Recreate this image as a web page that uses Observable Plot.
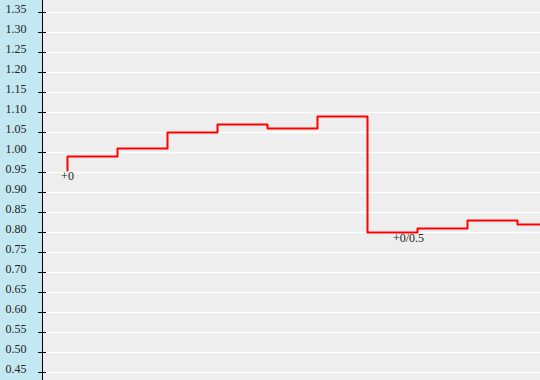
<!DOCTYPE html>
<html>
<head>
<meta charset="utf-8">
<script src="https://cdn.jsdelivr.net/npm/d3@7"></script>
<script src="https://cdn.jsdelivr.net/npm/@observablehq/plot@0.6"></script>
<style>
  html, body { margin: 0; padding: 0; background: #eeeeee; }
  svg text { font-family: 'Liberation Serif', 'Times New Roman', serif; }
</style>
</head>
<body>
<div id="chart"></div>
<script>
// Step series: point index and value (step-before)
const steps = [0, 1, 2, 3, 4, 5, 6, 7, 8, 9, 10];
const values = [0.955, 0.99, 1.01, 1.05, 1.07, 1.06, 1.09, 0.80, 0.81, 0.83, 0.82];
// Y ticks
const yTicks = [0.45, 0.50, 0.55, 0.60, 0.65, 0.70, 0.75, 0.80, 0.85, 0.90, 0.95, 1.00, 1.05, 1.10, 1.15, 1.20, 1.25, 1.30, 1.35];
// Annotations
const labelText = ["+0", "+0/0.5"];
const labelStep = [0, 7];

const series = steps.map((s, i) => ({s, v: values[i]}));
const labels = labelText.map((t, i) => ({t, s: labelStep[i], v: values[labelStep[i]]}));

const chart = Plot.plot({
  width: 540,
  height: 380,
  marginLeft: 42,
  marginRight: 0,
  marginTop: 0,
  marginBottom: 0,
  style: {
    background: "linear-gradient(to right, #c4e8f2 42px, #eeeeee 42px)",
    fontFamily: "'Liberation Serif', 'Times New Roman', serif",
    fontSize: "12px",
    color: "#222"
  },
  x: {domain: [-0.5, 9.46], axis: null},
  y: {domain: [0.43, 1.38], label: null},
  marks: [
    Plot.gridY(yTicks, {stroke: "white", strokeOpacity: 1, strokeWidth: 1.5}),
    Plot.axisY(yTicks, {tickSize: 8, dx: 4, text: null, label: null, stroke: "black"}),
    Plot.axisY(yTicks, {tickSize: 0, tickPadding: 16, tickFormat: ".2f", label: null, dy: -3, fill: "#222"}),
    Plot.ruleX([-0.5], {stroke: "black", strokeWidth: 1}),
    Plot.line(series, {x: "s", y: "v", curve: "step-before", stroke: "#ff0000", strokeWidth: 2, clip: true}),
    Plot.text(labels.slice(0, 1), {x: "s", y: "v", text: "t", lineAnchor: "top", dy: 1, fill: "#222"}),
    Plot.text(labels.slice(1), {x: "s", y: "v", text: "t", lineAnchor: "top", dy: 1, dx: -9, fill: "#222"})
  ]
});
document.getElementById("chart").appendChild(chart);
</script>
</body>
</html>
